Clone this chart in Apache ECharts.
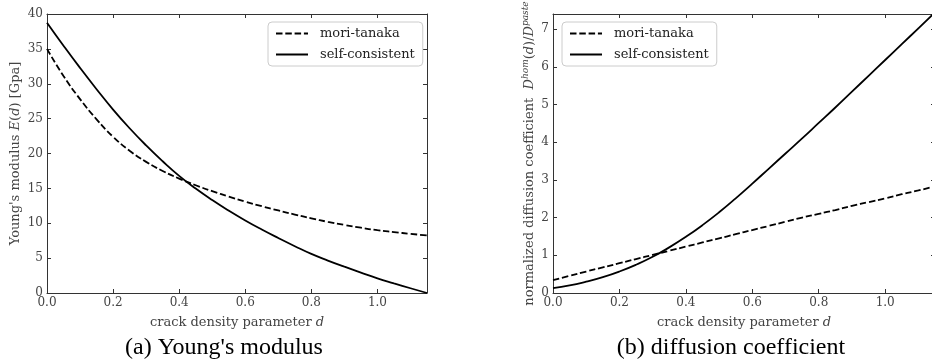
<!DOCTYPE html>
<html>
<head>
<meta charset="UTF-8">
<title>crack density homogenisation</title>
<script src="https://cdn.jsdelivr.net/npm/echarts@6.0.0/dist/echarts.min.js"></script>
<style>
  html, body { margin: 0; padding: 0; background: #fff; }
  #main { width: 932px; height: 362px; }
</style>
</head>
<body>
<div id="main"></div>
<script>
// crack density parameter d (sampled every 0.05)
var dVals = [0, 0.05, 0.1, 0.15, 0.2, 0.25, 0.3, 0.35, 0.4, 0.45, 0.5, 0.55,
             0.6, 0.65, 0.7, 0.75, 0.8, 0.85, 0.9, 0.95, 1.0, 1.05, 1.1, 1.15];

// (a) Young's modulus E(d) [Gpa]
var youngMT = [35.0, 31.1, 27.8, 24.9, 22.4, 20.4, 18.8, 17.5, 16.4, 15.45, 14.6, 13.82,
               13.1, 12.44, 11.83, 11.25, 10.7, 10.2, 9.76, 9.36, 9.0, 8.73, 8.48, 8.25];
var youngSC = [38.75, 35.45, 32.27, 29.22, 26.3, 23.62, 21.16, 18.89, 16.8, 14.98, 13.33, 11.81,
               10.4, 9.1, 7.88, 6.71, 5.6, 4.65, 3.77, 2.92, 2.1, 1.38, 0.68, 0.0];

// (b) normalized diffusion coefficient D^hom(d)/D^paste
var diffMT = [0.34, 0.455, 0.57, 0.68, 0.79, 0.9, 1.01, 1.12, 1.23, 1.34, 1.45, 1.56,
              1.67, 1.78, 1.89, 2.0, 2.1, 2.2, 2.31, 2.41, 2.51, 2.62, 2.72, 2.83];
var diffSC = [0.13, 0.2, 0.3, 0.42, 0.57, 0.75, 0.96, 1.21, 1.49, 1.8, 2.14, 2.51,
              2.9, 3.3, 3.7, 4.1, 4.51, 4.92, 5.34, 5.76, 6.18, 6.6, 7.02, 7.44];

var seriesNames = ['mori-tanaka', 'self-consistent'];
var captions = ["(a) Young's modulus", '(b) diffusion coefficient'];

function pairs(ys) {
  return dVals.map(function (d, i) { return [d, ys[i]]; });
}

var spine = '#333';
var serif = 'DejaVu Serif';
var fmt1 = function (v) { return v.toFixed(1); };

function xAx(grid, pos, show) {
  return {
    type: 'value', gridIndex: grid, position: pos, min: 0, max: 1.15, interval: 0.2,
    axisLine: { show: true, onZero: false, lineStyle: { color: spine, width: 1 } },
    axisTick: { show: true, inside: true, length: 4, lineStyle: { color: spine } },
    splitLine: { show: false },
    axisLabel: show ? { show: true, margin: 4, formatter: fmt1, showMaxLabel: false,
                        color: '#444', fontFamily: serif, fontSize: 12 } : { show: false },
    name: show ? '{n|crack density parameter }{i|d}' : '',
    nameLocation: 'middle', nameGap: 23,
    nameTextStyle: { rich: {
      n: { fontFamily: serif, fontSize: 13, color: '#444' },
      i: { fontFamily: serif, fontSize: 13, color: '#444', fontStyle: 'italic' } } }
  };
}

function yAx(grid, pos, max, interval, show, name, nameGap) {
  return {
    type: 'value', gridIndex: grid, position: pos, min: 0, max: max, interval: interval,
    axisLine: { show: true, onZero: false, lineStyle: { color: spine, width: 1 } },
    axisTick: { show: true, inside: true, length: 4, lineStyle: { color: spine } },
    splitLine: { show: false },
    axisLabel: show ? { show: true, margin: 4, showMaxLabel: (max % interval === 0),
                        color: '#444', fontFamily: serif, fontSize: 12 } : { show: false },
    name: name || '', nameLocation: 'middle', nameGap: nameGap || 0,
    nameTextStyle: { rich: {
      n: { fontFamily: serif, fontSize: 13, color: '#444', lineHeight: 18 },
      i: { fontFamily: serif, fontSize: 13, color: '#444', fontStyle: 'italic', lineHeight: 18 },
      s: { fontFamily: serif, fontSize: 9, color: '#444', fontStyle: 'italic', verticalAlign: 'top', lineHeight: 18 } } }
  };
}

function lineSeries(name, xi, yi, ys) {
  return {
    name: name, type: 'line', xAxisIndex: xi, yAxisIndex: yi,
    data: pairs(ys), smooth: true, symbol: 'none', showSymbol: false,
    lineStyle: { color: '#000', width: 1.8, type: name === 'mori-tanaka' ? [6.5, 2.8] : 'solid' },
    itemStyle: { color: '#000' }
  };
}

function legendAt(left) {
  return {
    left: left, top: 22, orient: 'vertical', data: seriesNames,
    itemWidth: 32, itemHeight: 14, itemGap: 8,
    itemStyle: { opacity: 0, borderWidth: 0 },
    padding: [5, 8, 5, 7], borderColor: '#ccc', borderWidth: 1, borderRadius: 4,
    backgroundColor: '#fff',
    textStyle: { fontFamily: serif, fontSize: 13, color: '#222', padding: [0, 0, 0, 7] }
  };
}

var myChart = echarts.init(document.getElementById('main'));
var option = {
  backgroundColor: '#fff',
  animation: false,
  grid: [
    { left: 47, top: 14, width: 380, height: 279, containLabel: false, outerBoundsMode: 'none' },
    { left: 553, top: 14, right: -3, height: 279, containLabel: false, outerBoundsMode: 'none' }
  ],
  xAxis: [xAx(0, 'bottom', true), xAx(0, 'top', false), xAx(1, 'bottom', true), xAx(1, 'top', false)],
  yAxis: [
    yAx(0, 'left', 40, 5, true, "{n|Young's modulus }{i|E}{n|(}{i|d}{n|) [Gpa]}", 22),
    yAx(0, 'right', 40, 5, false),
    yAx(1, 'left', 7.4, 1, true,
        '{n|normalized diffusion coefficient  }{i|D}{s|hom}{n|(}{i|d}{n|)/}{i|D}{s|paste}', 14),
    yAx(1, 'right', 7.4, 1, false)
  ],
  legend: [legendAt(268), legendAt(562)],
  series: [
    lineSeries(seriesNames[0], 0, 0, youngMT),
    lineSeries(seriesNames[1], 0, 0, youngSC),
    lineSeries(seriesNames[0], 2, 2, diffMT),
    lineSeries(seriesNames[1], 2, 2, diffSC)
  ],
  graphic: [
    { type: 'text', x: 224, y: 348, style: { text: captions[0], align: 'center', verticalAlign: 'middle',
      fontFamily: 'Liberation Serif', fontSize: 24, fill: '#000' } },
    { type: 'text', x: 731, y: 348, style: { text: captions[1], align: 'center', verticalAlign: 'middle',
      fontFamily: 'Liberation Serif', fontSize: 24, fill: '#000' } }
  ]
};
myChart.setOption(option);
</script>
</body>
</html>
